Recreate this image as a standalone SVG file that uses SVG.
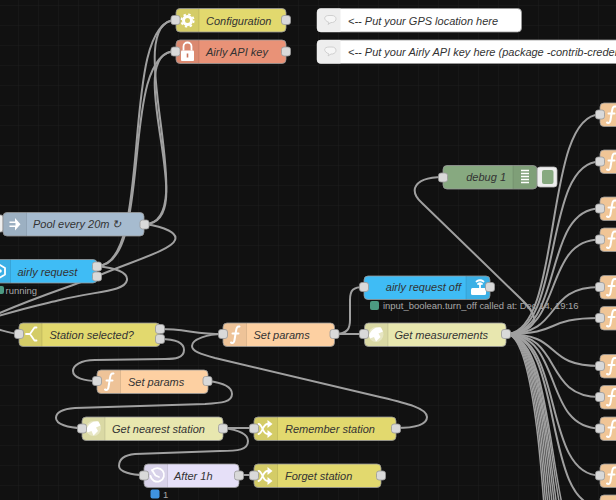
<svg xmlns="http://www.w3.org/2000/svg" width="616" height="500" viewBox="0 0 616 500">
<style>
text{font-family:"Liberation Sans",Arial,sans-serif}
.l{font-size:11px;font-style:italic;fill:#333}
.s{font-size:9.45px;fill:#a8a8a8}
.b{stroke:#999;stroke-width:.8}
.p{fill:#d9d9d9;stroke:#999;stroke-width:.8}
.i{fill:rgba(0,0,0,.06)}
.d{stroke:rgba(0,0,0,.12);stroke-width:.8}
.w{fill:none;stroke:#a0a0a0;stroke-width:2}
.t{fill:none;stroke:#a0a0a0;stroke-width:1.5}
.ic{fill:#fff;stroke:none}
.il{fill:none;stroke:#fff;stroke-width:1.8;stroke-linecap:round;stroke-linejoin:round}
.f{fill:none;stroke:#fff;stroke-width:2;stroke-linecap:round;stroke-linejoin:round}
</style>
<defs>
<pattern id="grid" width="20" height="20" patternUnits="userSpaceOnUse" x="-2" y="5">
<path d="M0 0H20M0 0V20" fill="none" stroke="#1d1d1d" stroke-width="1"/>
</pattern>
<g id="fi"><path class="f" d="M10.500 3.500C8 3 7.500 5 7 8L5.500 17C5 20 4 20.500 2 19.500M3.500 10.500H9.500"/></g>
<g id="sh"><path class="il" d="M4 7C8 7 8 17 13 17M4 17C8 17 8 7 13 7M4 7V7M4 17V17"/><path class="ic" d="M13 3L18 7L13 11ZM13 13L18 17L13 21Z"/></g>
<g id="gl"><circle cx="0" cy="0" r="7.500" fill="#fff" opacity=".35"/><path class="ic" d="M-7 1C-5 -5 0 -8 5 -7L7 -3L2.500 -1L4.500 2.500L0 7L-2 2.500L-6 4Z"/></g>
</defs>
<rect width="616" height="500" fill="#111"/>
<rect width="616" height="500" fill="url(#grid)"/>

<g id="statuses">
<g id="status-airly-request"><rect x="-3" y="286" width="7" height="8" rx="2" fill="#4c9a82"/><text class="s" x="5.500" y="293.500">running</text></g>
<g id="status-airly-off"><rect x="370" y="301" width="9" height="9" rx="2" fill="#4c9a82"/><text class="s" x="383" y="309">input_boolean.turn_off called at: Dec 14, 19:16</text></g>
<g id="status-after"><rect x="150.500" y="489.500" width="9" height="9" rx="2" fill="#3f93e0"/><text class="s" x="163" y="497.500">1</text></g>
</g>

<g id="connectors">
<path class="w" d="M145 224C203 224 118 20 176 20"/>
<path class="w" d="M145 224C203 224 118 51 176 51"/>
<path class="w" d="M97 266C155 266 118 20 176 20"/>
<path class="w" d="M97 266C155 266 118 51 176 51"/>
<path class="w" d="M145 224C165 227 178 233 175 240C172 250 130 262 100 275C70 287 25 300 -20 322"/>
<path class="w" d="M97 266C115 268 128 272 127 280C125 292 95 291 60 300C35 306 15 310 -20 322"/>
<path class="w" d="M-20 326C0 328 5 333 19 334"/>
<path class="w" d="M160 329C185 329 195 334 223 334"/>
<path class="w" d="M160 339C180 339 184 345 184 350C184 358 175 359 165 359L95 360C80 360 73 366 73 371C73 378 85 381 97 381"/>
<path class="w" d="M208 381C225 383 232 388 232 394C232 402 222 403 205 404L75 408C62 409 56 412 56 418C56 424 68 428 82 428"/>
<path class="w" d="M223 428L254 428"/>
<path class="w" d="M223 428C240 430 248 435 248 441C248 450 238 451 220 451L135 454C125 455 119 459 119 466C119 472 132 475 144 475"/>
<path class="w" d="M239 475L254 475"/>
<path class="w" d="M396 428C412 428 427 426 427 417C427 408 405 403 380 397L215 358C200 354 192 351 192 346C192 339 208 334 223 334"/>
<path class="w" d="M335 334L364 334"/>
<path class="w" d="M335 334C348 334 350 328 350 320L350 300C350 290 353 287 364 287"/>
<path class="w" d="M506 334C522 333 535 328 534 318C533 310 525 303 519 297L422 203C415 197 414 192 415 188C418 180 430 177 443 177"/>
<path class="w" d="M506 334C564 334 542 114.500 600 114.500"/>
<path class="w" d="M506 334C564 334 542 161.500 600 161.500"/>
<path class="w" d="M506 334C564 334 542 208.500 600 208.500"/>
<path class="w" d="M506 334C564 334 542 239.500 600 239.500"/>
<path class="w" d="M506 334C564 334 542 287 600 287"/>
<path class="w" d="M506 334C564 334 542 318 600 318"/>
<path class="w" d="M506 334C564 334 542 366 600 366"/>
<path class="w" d="M506 334C564 334 542 397 600 397"/>
<path class="w" d="M506 334C564 334 542 428.500 600 428.500"/>
<path class="w" d="M506 334C564 334 542 475.500 600 475.500"/>
<path class="w" d="M506 334C564 334 542 506.500 600 506.500"/>
<path class="t" d="M506 334C564 334 542 570 600 570"/>
<path class="t" d="M506 334C564 334 542 590 600 590"/>
<path class="t" d="M506 334C564 334 542 620 600 620"/>
<path class="t" d="M506 334C564 334 542 650 600 650"/>
<path class="t" d="M506 334C564 334 542 690 600 690"/>
<path class="t" d="M506 334C564 334 542 740 600 740"/>
<path class="t" d="M506 334C564 334 542 800 600 800"/>
<path class="t" d="M506 334C564 334 542 870 600 870"/>
<path class="t" d="M506 334C564 334 542 950 600 950"/>
</g>

<g id="configuration">
<rect class="b" x="176" y="8.500" width="110" height="23.500" rx="4" fill="#e2d96e"/>
<path class="i" d="M180 8.500H199V32H180A4 4 0 0 1 176 28V12.500A4 4 0 0 1 180 8.500Z"/><path class="d" d="M199 8.500V32"/>
<circle cx="187.500" cy="20.500" r="4" fill="none" stroke="#fff" stroke-width="3"/><circle cx="187.500" cy="20.500" r="6.200" fill="none" stroke="#fff" stroke-width="1.800" stroke-dasharray="2.400 2.470"/>
<text class="l" x="206" y="24.500">Configuration</text>
<rect class="p" x="171" y="15.500" width="9" height="9" rx="2.500"/><rect class="p" x="281.500" y="15.500" width="9" height="9" rx="2.500"/>
</g>
<g id="airly-api-key">
<rect class="b" x="176" y="40" width="110" height="23.500" rx="4" fill="#e99277"/>
<path class="i" d="M180 40H199V63.500H180A4 4 0 0 1 176 59.500V44A4 4 0 0 1 180 40Z"/><path class="d" d="M199 40V63.500"/>
<rect class="ic" x="181" y="50.500" width="13" height="10.500" rx="1"/><path d="M183.500 50.500V46.500A4 4 0 0 1 191.500 46.500V50.500" fill="none" stroke="#fff" stroke-width="1.800"/><rect x="186.700" y="53.500" width="1.600" height="4" fill="#c9745c"/>
<text class="l" x="206" y="56">Airly API key</text>
<rect class="p" x="171" y="47" width="9" height="9" rx="2.500"/><rect class="p" x="281.500" y="47" width="9" height="9" rx="2.500"/>
</g>
<g id="comment-gps">
<rect class="b" x="317" y="8.500" width="204.500" height="23.500" rx="4" fill="#fff"/>
<path d="M321 8.500H340.500V32H321A4 4 0 0 1 317 28V12.500A4 4 0 0 1 321 8.500Z" fill="#eee"/>
<path d="M328 24.500L329 22.500C323 20 323.500 15.500 329 15.500H332C337 15.500 337.500 21.500 332.500 22.500H331Z" fill="#f6f6f6" stroke="#ccc" stroke-width=".9"/>
<text class="l" x="348" y="24.500">&lt;-- Put your GPS location here</text>
</g>
<g id="comment-key">
<rect class="b" x="317" y="40" width="320" height="23.500" rx="4" fill="#fff"/>
<path d="M321 40H340.500V63.500H321A4 4 0 0 1 317 59.500V44A4 4 0 0 1 321 40Z" fill="#eee"/>
<path d="M328 56L329 54C323 51.500 323.500 47 329 47H332C337 47 337.500 53 332.500 54H331Z" fill="#f6f6f6" stroke="#ccc" stroke-width=".9"/>
<text class="l" x="348" y="56">&lt;-- Put your Airly API key here (package -contrib-creden</text>
</g>
<g id="pool-every-20m">
<rect class="b" x="-6" y="215" width="9" height="17" rx="2" fill="#eee"/>
<rect class="b" x="3" y="212.500" width="141" height="23.500" rx="4" fill="#a6bbcf"/>
<path class="i" d="M7 212.500H26.500V236H7A4 4 0 0 1 3 232V216.500A4 4 0 0 1 7 212.500Z"/><path class="d" d="M26.500 212.500V236"/>
<path class="ic" d="M15 218L20.500 224.300L15 230.500V227H9.500V225.500H15.500V223H9.500V221.500H15Z"/>
<text class="l" x="33" y="228">Pool every 20m ↻</text>
<rect class="p" x="140" y="220" width="9" height="9" rx="2.500"/>
</g>
<g id="airly-request">
<rect class="b" x="-15" y="259.500" width="112" height="23.500" rx="4" fill="#3fbcf5"/>
<path class="i" d="M-15 259.500H10.500V283H-15Z"/><path class="d" d="M10.500 259.500V283"/>
<path class="il" d="M0 265L5 268V274.500L0 277.500L-5 274.500V268Z"/><circle class="ic" cx="0" cy="271" r="1.800"/>
<text class="l" x="17.500" y="275.500">airly request</text>
<rect class="p" x="92.500" y="262" width="9" height="9" rx="2.500"/><rect class="p" x="92.500" y="272" width="9" height="9" rx="2.500"/>
</g>
<g id="station-selected">
<rect class="b" x="19" y="323" width="141" height="23.500" rx="4" fill="#e2d96e"/>
<path class="i" d="M23 323H42V346.500H23A4 4 0 0 1 19 342.500V327A4 4 0 0 1 23 323Z"/><path class="d" d="M42 323V346.500"/>
<path class="il" d="M26 334H30L34.500 327.500H36.500M30 334L34.500 340.500H36.500"/>
<text class="l" x="49.500" y="338.500">Station selected?</text>
<rect class="p" x="14.500" y="329.500" width="9" height="9" rx="2.500"/><rect class="p" x="155.500" y="324.500" width="9" height="9" rx="2.500"/><rect class="p" x="155.500" y="334.500" width="9" height="9" rx="2.500"/>
</g>
<g id="set-params-1">
<rect class="b" x="223" y="323" width="111.500" height="23.500" rx="4" fill="#fdd0a2"/>
<path class="i" d="M227 323H246.500V346.500H227A4 4 0 0 1 223 342.500V327A4 4 0 0 1 227 323Z"/><path class="d" d="M246.500 323V346.500"/>
<use href="#fi" x="229" y="323"/>
<text class="l" x="253.500" y="338.500">Set params</text>
<rect class="p" x="218.500" y="329.500" width="9" height="9" rx="2.500"/><rect class="p" x="330" y="329.500" width="9" height="9" rx="2.500"/>
</g>
<g id="set-params-2">
<rect class="b" x="97" y="370" width="111" height="23.500" rx="4" fill="#fdd0a2"/>
<path class="i" d="M101 370H120.500V393.500H101A4 4 0 0 1 97 389.500V374A4 4 0 0 1 101 370Z"/><path class="d" d="M120.500 370V393.500"/>
<use href="#fi" x="103" y="370"/>
<text class="l" x="128" y="385.500">Set params</text>
<rect class="p" x="92.500" y="376.500" width="9" height="9" rx="2.500"/><rect class="p" x="203" y="376.500" width="9" height="9" rx="2.500"/>
</g>
<g id="get-nearest-station">
<rect class="b" x="82" y="417" width="141" height="23.500" rx="4" fill="#e8e7af"/>
<path class="i" d="M86 417H105V440.500H86A4 4 0 0 1 82 436.500V421A4 4 0 0 1 86 417Z"/><path class="d" d="M105 417V440.500"/>
<use href="#gl" x="93.500" y="428.500"/>
<text class="l" x="112" y="432.500">Get nearest station</text>
<rect class="p" x="77.500" y="424" width="9" height="9" rx="2.500"/><rect class="p" x="218.500" y="424" width="9" height="9" rx="2.500"/>
</g>
<g id="remember-station">
<rect class="b" x="254" y="417" width="142" height="23.500" rx="4" fill="#e2d96e"/>
<path class="i" d="M258 417H277.500V440.500H258A4 4 0 0 1 254 436.500V421A4 4 0 0 1 258 417Z"/><path class="d" d="M277.500 417V440.500"/>
<use href="#sh" x="254.500" y="417"/>
<text class="l" x="285" y="432.500">Remember station</text>
<rect class="p" x="249.500" y="424" width="9" height="9" rx="2.500"/><rect class="p" x="391.500" y="424" width="9" height="9" rx="2.500"/>
</g>
<g id="after-1h">
<rect class="b" x="144" y="464" width="95" height="23.500" rx="4" fill="#e6e0f8"/>
<path class="i" d="M148 464H167.500V487.500H148A4 4 0 0 1 144 483.500V468A4 4 0 0 1 148 464Z"/><path class="d" d="M167.500 464V487.500"/>
<path class="il" d="M152 470.500A6.800 6.800 0 1 1 150.500 476M152 470L155.500 475.500L159 477" stroke-width="1.300"/>
<text class="l" x="174" y="479.500">After 1h</text>
<rect class="p" x="139.500" y="471" width="9" height="9" rx="2.500"/><rect class="p" x="234.500" y="471" width="9" height="9" rx="2.500"/>
</g>
<g id="forget-station">
<rect class="b" x="254" y="464" width="127" height="23.500" rx="4" fill="#e2d96e"/>
<path class="i" d="M258 464H277.500V487.500H258A4 4 0 0 1 254 483.500V468A4 4 0 0 1 258 464Z"/><path class="d" d="M277.500 464V487.500"/>
<use href="#sh" x="254.500" y="464"/>
<text class="l" x="285" y="479.500">Forget station</text>
<rect class="p" x="249.500" y="471" width="9" height="9" rx="2.500"/><rect class="p" x="376.500" y="471" width="9" height="9" rx="2.500"/>
</g>
<g id="airly-request-off">
<rect class="b" x="364" y="276" width="126" height="23.500" rx="4" fill="#3fbcf5"/>
<path class="i" d="M466 276H486A4 4 0 0 1 490 280V295.500A4 4 0 0 1 486 299.500H466Z"/><path class="d" d="M466 276V299.500"/>
<rect class="ic" x="471" y="288" width="15" height="7" rx="1.500"/><path class="il" d="M480 288V284M476.500 281.500Q480 279 483.500 281.500M478 284Q480 282.500 482 284" stroke-width="1"/>
<text class="l" x="461" y="291" text-anchor="end">airly request off</text>
<rect class="p" x="359.500" y="282.500" width="9" height="9" rx="2.500"/><rect class="p" x="485.500" y="282.500" width="9" height="9" rx="2.500"/>
</g>
<g id="get-measurements">
<rect class="b" x="364.500" y="323" width="141.500" height="23.500" rx="4" fill="#e8e7af"/>
<path class="i" d="M368.500 323H388V346.500H368.500A4 4 0 0 1 364.500 342.500V327A4 4 0 0 1 368.500 323Z"/><path class="d" d="M388 323V346.500"/>
<use href="#gl" x="376" y="334.500"/>
<text class="l" x="394.500" y="338.500">Get measurements</text>
<rect class="p" x="359.500" y="329.500" width="9" height="9" rx="2.500"/><rect class="p" x="501.500" y="329.500" width="9" height="9" rx="2.500"/>
</g>
<g id="debug-1">
<rect x="537" y="167" width="20" height="20" rx="3" fill="#eee" stroke="#bbb" stroke-width=".8"/><rect x="542" y="170" width="11.500" height="14" rx="2" fill="#87a980"/>
<rect class="b" x="443" y="165.500" width="94" height="23.500" rx="4" fill="#87a980"/>
<path class="i" d="M513 165.500H533A4 4 0 0 1 537 169.500V185A4 4 0 0 1 533 189H513Z"/><path class="d" d="M513 165.500V189"/>
<path d="M521 170.500H529M521 173.500H529M521 176.500H529M521 179.500H529M521 182.500H529" stroke="#fff" stroke-width="1.400" fill="none"/>
<text class="l" x="506" y="181" text-anchor="end">debug 1</text>
<rect class="p" x="438.500" y="173" width="9" height="9" rx="2.500"/>
</g>
<g id="function-1"><rect class="b" x="600" y="103" width="40" height="23.500" rx="4" fill="#f0c596"/><use href="#fi" x="605" y="103"/><rect class="p" x="595.500" y="110" width="9" height="9" rx="2.500"/></g>
<g id="function-2"><rect class="b" x="600" y="150" width="40" height="23.500" rx="4" fill="#f0c596"/><use href="#fi" x="605" y="150"/><rect class="p" x="595.500" y="157" width="9" height="9" rx="2.500"/></g>
<g id="function-3"><rect class="b" x="600" y="197" width="40" height="23.500" rx="4" fill="#f0c596"/><use href="#fi" x="605" y="197"/><rect class="p" x="595.500" y="204" width="9" height="9" rx="2.500"/></g>
<g id="function-4"><rect class="b" x="600" y="228" width="40" height="23.500" rx="4" fill="#f0c596"/><use href="#fi" x="605" y="228"/><rect class="p" x="595.500" y="235" width="9" height="9" rx="2.500"/></g>
<g id="function-5"><rect class="b" x="600" y="275.500" width="40" height="23.500" rx="4" fill="#f0c596"/><use href="#fi" x="605" y="275.500"/><rect class="p" x="595.500" y="282.500" width="9" height="9" rx="2.500"/></g>
<g id="function-6"><rect class="b" x="600" y="306.500" width="40" height="23.500" rx="4" fill="#f0c596"/><use href="#fi" x="605" y="306.500"/><rect class="p" x="595.500" y="313.500" width="9" height="9" rx="2.500"/></g>
<g id="function-7"><rect class="b" x="600" y="354.500" width="40" height="23.500" rx="4" fill="#f0c596"/><use href="#fi" x="605" y="354.500"/><rect class="p" x="595.500" y="361.500" width="9" height="9" rx="2.500"/></g>
<g id="function-8"><rect class="b" x="600" y="385.500" width="40" height="23.500" rx="4" fill="#f0c596"/><use href="#fi" x="605" y="385.500"/><rect class="p" x="595.500" y="392.500" width="9" height="9" rx="2.500"/></g>
<g id="function-9"><rect class="b" x="600" y="417" width="40" height="23.500" rx="4" fill="#f0c596"/><use href="#fi" x="605" y="417"/><rect class="p" x="595.500" y="424" width="9" height="9" rx="2.500"/></g>
<g id="function-10"><rect class="b" x="600" y="464" width="40" height="23.500" rx="4" fill="#f0c596"/><use href="#fi" x="605" y="464"/><rect class="p" x="595.500" y="471" width="9" height="9" rx="2.500"/></g>
<g id="function-11"><rect class="b" x="600" y="495" width="40" height="23.500" rx="4" fill="#f0c596"/></g>
</svg>
